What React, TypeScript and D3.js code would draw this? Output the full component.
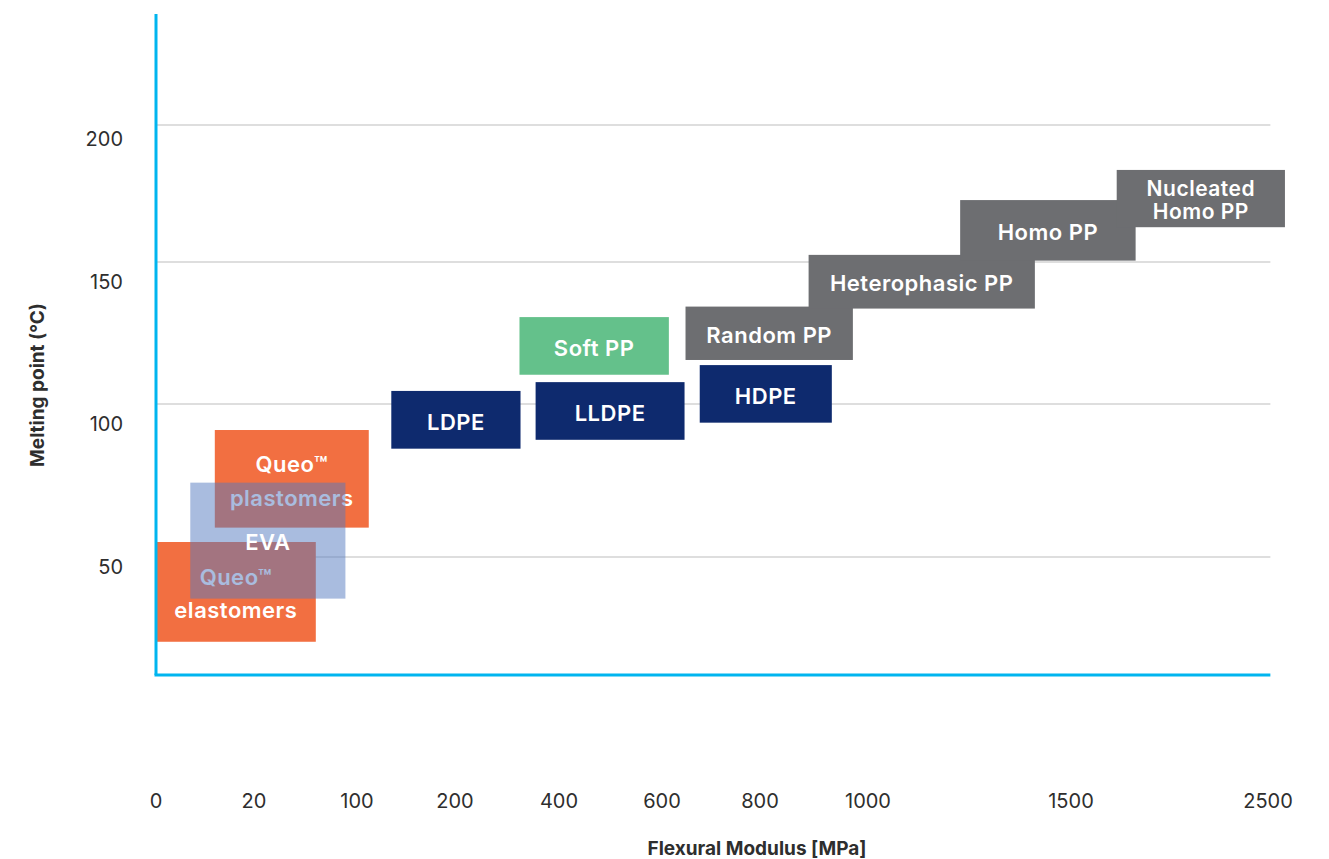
import React, { useEffect } from "react";
import * as d3 from "d3";

// Axis tick values (flexural modulus uses an uneven, stepped axis)
const modulusTicks = [0, 20, 100, 200, 400, 600, 800, 1000, 1500, 2500];
const meltingTicks = [50, 100, 150, 200];

// Material property windows
const materialNames = [
  "Queo elastomers",
  "Queo plastomers",
  "EVA",
  "LDPE",
  "Soft PP",
  "LLDPE",
  "Random PP",
  "HDPE",
  "Heterophasic PP",
  "Homo PP",
  "Nucleated Homo PP",
];
const labelLines = [
  ["Queo™", "elastomers"],
  ["Queo™", "plastomers"],
  ["EVA"],
  ["LDPE"],
  ["Soft PP"],
  ["LLDPE"],
  ["Random PP"],
  ["HDPE"],
  ["Heterophasic PP"],
  ["Homo PP"],
  ["Nucleated", "Homo PP"],
];
const families = ["Queo", "Queo", "EVA", "PE", "SoftPP", "PE", "PP", "PE", "PP", "PP", "PP"];
const modulusLow = [0, 12, 7, 135, 324, 355, 648, 677, 890, 1227, 1732];
const modulusHigh = [68, 112, 91, 326, 614, 646, 972, 933, 1411, 1828, 2586];
const meltLow = [22.3, 59.6, 36.4, 85.4, 110.3, 88.3, 115.5, 93.9, 133.6, 150.5, 162.7];
const meltHigh = [54.9, 91.5, 74.3, 104.6, 130.6, 107.7, 134.3, 113.7, 152.6, 172.6, 183.6];

// Axis extents
const modulusAxisMax = 2512;
const meltAxisMin = 11.4;
const meltAxisMax = 240.5;

// Layout
const WIDTH = 1329;
const HEIGHT = 859;
const modulusTickPx = [156, 254, 357, 455, 559, 662, 760, 868, 1071, 1268];
const meltTickPx = [557, 404, 262, 125];
const meltLabelPx = [567, 139];

const familyColor = d3
  .scaleOrdinal<string, string>()
  .domain(["Queo", "EVA", "PE", "SoftPP", "PP"])
  .range(["#f26f41", "#5379bf", "#0e2a6e", "#64c18b", "#6d6e71"]);
const familyOpacity: Record<string, number> = { EVA: 0.5 };
const lineGap: Record<string, number> = {
  "Queo elastomers": 33,
  "Queo plastomers": 34,
  "Nucleated Homo PP": 23,
};
const labelSize: Record<string, number> = { "Nucleated Homo PP": 21 };

const AXIS_COLOR = "#00b5ef";
const GRID_COLOR = "#bdbdbd";
const TEXT_COLOR = "#2e2e2e";
const FONT = "Inter, 'Noto Sans', sans-serif";

export default function App() {
  useEffect(() => {
    document.body.style.margin = "0";
  }, []);

  const x = d3.scaleLinear().domain(modulusTicks).range(modulusTickPx);
  const y = d3.scaleLinear().domain(meltingTicks).range(meltTickPx);
  const yLabel = d3
    .scaleLinear()
    .domain([meltingTicks[0], meltingTicks[meltingTicks.length - 1]])
    .range(meltLabelPx);

  const x0 = x(0);
  const x1 = x(modulusAxisMax);
  const yBottom = y(meltAxisMin);
  const yTop = y(meltAxisMax);

  const boxes = materialNames.map((name, i) => ({
    name,
    lines: labelLines[i],
    family: families[i],
    x: x(modulusLow[i]),
    w: x(modulusHigh[i]) - x(modulusLow[i]),
    y: y(meltHigh[i]),
    h: y(meltLow[i]) - y(meltHigh[i]),
  }));

  return (
    <svg width={WIDTH} height={HEIGHT} style={{ display: "block" }} fontFamily={FONT}>
      <rect width={WIDTH} height={HEIGHT} fill="#ffffff" />

      {/* horizontal grid */}
      {meltingTicks.map((t) => (
        <line key={`g${t}`} x1={x0} x2={x1} y1={y(t)} y2={y(t)} stroke={GRID_COLOR} strokeWidth={1} />
      ))}

      {/* material windows */}
      {boxes.map((b) => {
        const gap = lineGap[b.name] ?? 0;
        const cx = b.x + b.w / 2;
        const cy = b.y + b.h / 2 + 2;
        const firstY = cy - ((b.lines.length - 1) * gap) / 2;
        const size = labelSize[b.name] ?? 22;
        return (
          <g key={b.name}>
            <rect
              x={b.x}
              y={b.y}
              width={b.w}
              height={b.h}
              fill={familyColor(b.family)}
              fillOpacity={familyOpacity[b.family] ?? 1}
            />
            {b.lines.map((ln, j) => (
              <text
                key={j}
                x={cx}
                y={firstY + j * gap}
                dy="0.35em"
                textAnchor="middle"
                fill="#ffffff"
                fontSize={size}
                fontWeight={600}
                letterSpacing={0.5}
              >
                {ln}
              </text>
            ))}
          </g>
        );
      })}

      {/* axes */}
      <line x1={x0} x2={x0} y1={yTop} y2={yBottom} stroke={AXIS_COLOR} strokeWidth={3} />
      <line x1={x0 - 1.5} x2={x1} y1={yBottom} y2={yBottom} stroke={AXIS_COLOR} strokeWidth={3} />

      {/* y tick labels */}
      {meltingTicks.map((t) => (
        <text
          key={`yl${t}`}
          x={123}
          y={yLabel(t)}
          dy="0.35em"
          textAnchor="end"
          fill={TEXT_COLOR}
          fontSize={20}
        >
          {t}
        </text>
      ))}

      {/* x tick labels */}
      {modulusTicks.map((t) => (
        <text
          key={`xl${t}`}
          x={x(t)}
          y={801}
          dy="0.35em"
          textAnchor="middle"
          fill={TEXT_COLOR}
          fontSize={20}
        >
          {t}
        </text>
      ))}

      {/* axis titles */}
      <text
        x={757}
        y={848}
        dy="0.35em"
        textAnchor="middle"
        fill={TEXT_COLOR}
        fontSize={19}
        fontWeight={700}
      >
        Flexural Modulus [MPa]
      </text>
      <text
        transform={`translate(37,385) rotate(-90)`}
        dy="0.35em"
        textAnchor="middle"
        fill={TEXT_COLOR}
        fontSize={19}
        fontWeight={700}
      >
        Melting point (°C)
      </text>
    </svg>
  );
}
